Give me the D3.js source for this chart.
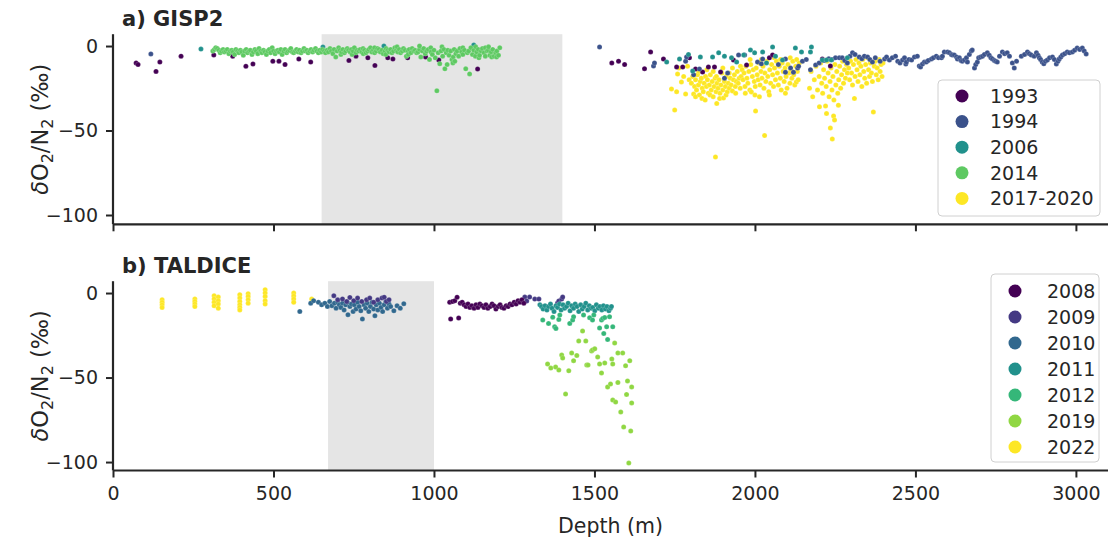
<!DOCTYPE html>
<html><head><meta charset="utf-8">
<script src="https://cdn.jsdelivr.net/npm/d3@7"></script>
<style>
body{margin:0;background:#fff;}
text{font-family:"DejaVu Sans",sans-serif;fill:#262626;}
</style></head>
<body><svg id="c" width="1109" height="545"></svg>
<script>
// ---------- DATA ----------
const xTicks = [0,500,1000,1500,2000,2500,3000];
const yTicks = [0,-50,-100];
const gispYears = ["1993","1994","2006","2014","2017-2020"];
const taldiceYears = ["2008","2009","2010","2011","2012","2019","2022"];
const gispSpan = [650,1400];
const taldiceSpan = [670,1000];

const gisp_1993 = [[72,-10],[78,-11],[134,-15],[146,-9.5],[212,-6],[314,-5.3],[373,-6],[414,-12],[436,-10.6],[498,-9],[517,-9],[536,-11],[579,-7.7],[616,-9.5],
[735,-8.5],[757,-6],[794,-7],[816,-11.5],[856,-7],[872,-7.7],[918,-7],[974,-6.5],[1015,-8.3],[1136,-13.6],
[1554,-10],[1575,-9],[1594,-11],[1656,-13.4],[1675,-3.5],[1715,-7.7],[1756,-12.4],[1775,-12.4],[1796,-7],[1815,-13.6],[1837,-15.4],[1855,-12.4],[1874,-12.4],[1893,-15.4],[1933,-8.3],[1974,-11.2],[2045,-7],[2055,-5.3],[2210,-7.7],[2235,-11.8]];

const gisp_1994 = [[118,-4.7],[1516,-0.6],[1684,-11.8],[1687,-10],[1784,-9],[1787,-6.5],[1809,-17],[1827,-13.6],[1905,-19],[1915,-16],[1949,-5.3],[1968,-5.3],[2008,-9.5],[2020,-10.5],[2024,-7.7],[2073,-11],[2095,-7.7],[2095,-15.5],[2111,-13],[2120,-15.5],[2133,-13],[2136,-12],[2148,-9],[2160,-8],[2173,-14],[2189,-11.2],[2200,-10],[2215,-8.5],[2230,-7.5],[2240,-8],[2251,-7],[2263,-7],[2272,-7],[2280,-8.5],[2288,-10],[2296,-6],[2304,-4],[2312,-5],[2325,-6.5],[2333,-7.5],[2341,-6],[2351,-6.5],[2358,-8],[2366,-9.5],[2375,-7],[2390,-9],[2404,-7.7],[2410,-6.5],[2419,-8.3],[2428,-7],[2438,-6],[2445,-9],[2452,-10],[2460,-8.3],
[2466,-7],[2470,-10.6],[2472,-9.5],[2480,-8],[2488,-8.3],[2497,-6.5],[2506,-6],[2512,-11.8],[2516,-12.4],[2522,-10.6],[2528,-9.5],[2534,-9.5],[2540,-8.5],[2550,-7.7],[2556,-7],[2565,-6],[2572,-7],[2581,-7],[2584,-6],[2590,-3.5],[2600,-3.5],[2606,-4],[2612,-5],[2615,-5.3],[2621,-5.3],[2628,-6.5],[2631,-7.7],[2637,-7],[2642,-8.5],[2646,-9],[2653,-8.3],[2659,-7],[2662,-9.5],[2668,-5],[2674,-3],[2677,-2.4],[2684,-13],[2688,-11],[2693,-9.5],[2697,-7],[2703,-6.5],[2709,-6],[2715,-5],[2724,-4],[2730,-5.5],[2735,-7],[2740,-7.7],[2746,-8.5],[2750,-9],[2755,-9.5],[2762,-6],[2771,-3.5],[2778,-4.5],[2786,-4],[2793,-6],[2802,-10],[2808,-13],[2815,-9],[2830,-6],[2840,-5],[2849,-3.5],[2855,-4.5],[2861,-5.3],[2870,-6],[2877,-4],[2882,-5.5],[2886,-7],[2890,-8],[2895,-9.5],[2900,-10.5],[2905,-9],[2911,-8.3],[2918,-7],[2927,-6.5],[2933,-8],[2939,-10.6],[2944,-9],[2948,-7.7],[2953,-6.5],[2958,-5.3],[2965,-4.5],[2973,-3.5],[2980,-4],[2989,-3.5],[2996,-2.5],[3004,-1.2],[3012,-2],[3020,-1.2],[3026,-3],[3032,-4.7]];

const gisp_2006 = [[274,-1.8],[654,-0.6],[844,0],[1124,0.6],[1725,-9.5],[1765,-7.7],[1793,-5],[1806,-14.8],[1830,-6.5],[1868,-6.5],[1887,-4],[1905,-6],[1927,-7],[1943,-9.5],[1965,-5.3],[1986,-2.4],[1999,-4],[2024,-3.5],[2036,-10],[2055,-0.6],[2064,-6],[2086,-8.3],[2126,-1.2],[2145,-3.5],[2173,-3.5],[2176,-0.6],[2210,-8.3],[2223,-8.3],[2238,-8.3],[2288,-7]];

const gisp_2014 = [[311,-3],[316,-2],[320,-1],[325,-1.5],[330,-2.5],[334,-4],[338,-3],[343,-2],[347,-3.5],[352,-3],[356,-2],[361,-4.5],[365,-3],[370,-2.5],[374,-3.5],[379,-5],[383,-2],[388,-3],[392,-4],[397,-2.5],[401,-3.5],[406,-5.5],[410,-3],[415,-2],[419,-4],[424,-3],[428,-2.5],[433,-5],[437,-3.5],[442,-2],[446,-3],[451,-4.5],[455,-1.5],[460,-3],[464,-4],[469,-2.5],[473,-3.5],[478,-5],[482,-3],[487,-2],[491,-4],[496,-1],[500,-3],[505,-4.5],[509,-3],[514,-2.5],[518,-3.5],[523,-2],[527,-5],[532,-3],[536,-2],[541,-4],[545,-3],[550,-2.5],[554,-1.5],[559,-3.5],[563,-4],[568,-3],[572,-2],[577,-3.5],[581,-2.5],[586,-4],[590,-3],[595,-1.5],[599,-3],[604,-2.5],[608,-4],[613,-3],[617,-2],[622,-3.5],[626,-2.5],[631,-1.5],[635,-3],[640,-4],[644,-2.5],[649,-3.5],[653,-2],[658,-3],[662,-4],[667,-2.5],[671,-3.5],[676,-1.5],[680,-3],[685,-4.5],[689,-2],[694,-6.5],[698,-3],[703,-1],[707,-2.5],[710,-5],[712,-3.5],[716,-2],[721,-4],[725,-3],[730,-1.5],[734,-2.5],[739,-3.5],[743,-2],[745,-5],[748,-3],[752,-1],[757,-4],[761,-2.5],[766,-3],[770,-2],[775,-3.5],[779,-1.5],[780,-4.5],[784,-2.5],[788,-4],[793,-3],[797,-2],[802,-1],[806,-3.5],[811,-2.5],[815,-4],[815,-1],[820,-3],[824,-1.5],[829,-2],[833,-3.5],[838,-2.5],[842,-4.5],[847,-3],[850,-5],[851,-1.5],[856,-2.5],[860,-3.5],[865,-2],[869,-4],[874,-3],[878,-1],[883,-2.5],[885,-0.5],[887,-3.5],[892,-2],[896,-4],[901,-3],[905,-1.5],[910,-2.5],[914,-6],[919,-3],[920,-5],[923,-2],[928,-4],[932,-1.5],[937,-3],[941,-2.5],[946,-4],[950,-3.5],[955,-2],[955,0],[959,-6.5],[964,-3],[968,-1.5],[973,-4.5],[977,-3],[982,-2],[986,-8],[990,-1],[991,-3.5],[995,-5],[1000,-2.5],[1004,-7],[1009,-26.5],[1013,-4],[1018,-10.5],[1022,-3],[1025,-0.5],[1027,-6],[1031,-2],[1034,-13.5],[1038,-4],[1041,-11],[1043,-2.5],[1047,-5.5],[1052,-3],[1056,-8],[1059,-10],[1060,-6.5],[1063,-2],[1065,-9],[1068,-4.5],[1072,-3],[1077,-6],[1081,-1.5],[1086,-3.5],[1090,-5],[1090,-1],[1095,-2.5],[1099,-13.5],[1104,-4],[1108,-3],[1111,-16.5],[1115,-1],[1120,-5],[1124,-2.5],[1129,-6],[1130,-0.5],[1133,-3.5],[1138,-2],[1140,-7],[1142,-5.5],[1147,-3],[1151,-1.5],[1156,-4],[1160,-6],[1160,-1],[1165,-3],[1169,-2.5],[1170,-0.5],[1174,-5.5],[1178,-3.5],[1180,-6.5],[1183,-2],[1187,-6],[1192,-4],[1195,-6.5],[1196,-3],[1201,-5.5],[1205,-1]];

const gisp_2017_2020 = [[1740,-25.4],[1750,-37.9],[1756,-27],[1759,-16.6],[1763,-13],[1771,-21.3],[1778,-18],[1784,-28.4],[1790,-12],[1795,-20],
[1802,-22],[1806,-18],[1809,-28.4],[1812,-24],[1815,-20],[1815,-30],[1818,-26],[1821,-17],[1824,-23],[1825,-15],[1827,-29],[1830,-21],[1833,-19],[1835,-31],[1836,-25],[1839,-27],[1842,-22],[1845,-32],[1846,-18],[1849,-24],[1850,-14],[1852,-20],[1855,-28],[1858,-23],[1860,-29],[1861,-17],[1864,-26],[1867,-21],[1870,-30],[1870,-15],[1873,-24],[1876,-19],[1877,-65.7],[1879,-27],[1880,-18],[1881,-34],[1882,-22],[1885,-25],[1888,-20],[1890,-31],[1891,-28],[1894,-23],[1897,-16],[1900,-26],[1900,-13],[1902,-30.8],[1905,-21],[1908,-24],[1910,-29],[1911,-18],[1914,-27],[1917,-22],[1920,-25],[1920,-16],[1923,-19],[1926,-23],[1930,-26.6],[1930,-13],[1933,-20],[1936,-17],[1939,-24],[1940,-28],[1942,-21],[1945,-15],[1948,-22],[1951,-19],[1954,-25],[1955,-12],[1957,-18],[1960,-14],
[1963,-20],[1966,-16],[1969,-24],[1970,-28],[1972,-12],[1975,-19],[1978,-22],[1981,-15],[1984,-26],[1985,-8],[1987,-11],[1989,-27.2],[1992,-18],[1995,-14],[1998,-21],[2000,-29],[2001,-24],[2002,-38.5],[2004,-13],[2007,-17],[2010,-20],[2013,-10],[2014,-30],[2016,-23],[2019,-15],[2020,-8],[2022,-19],[2025,-12],[2028,-25],[2030,-53],[2031,-16],[2034,-21],[2037,-9],[2040,-18],[2043,-27],[2045,-29],[2046,-14],[2049,-22],[2052,-11],[2055,-17],[2058,-24],[2060,-7],[2061,-13],[2064,-20],[2067,-9],[2070,-16],[2073,-23],[2076,-12],[2079,-19],[2080,-8],[2082,-26],[2085,-10],[2088,-15],[2091,-21],[2094,-13],[2095,-28],[2097,-18],[2100,-25],[2103,-11],[2106,-16],[2109,-22],[2110,-7],[2112,-14],[2115,-19],[2118,-9],[2121,-17],[2124,-23],[2127,-12],[2129,-21.3],[2130,-8],[2132,-15],[2135,-20],[2138,-10],
[2170,-25],[2175,-15],[2180,-30],[2185,-20],[2190,-12],[2195,-26],[2200,-18],[2201,-36],[2205,-10],[2208,-22],[2211,-28],[2214,-14],[2217,-19],[2220,-35.5],[2222,-24],[2223,-40],[2225,-9],[2228,-16],[2231,-30],[2234,-21],[2235,-48.5],[2237,-13],[2240,-26],[2241,-55],[2243,-18],[2245,-41.4],[2246,-32],[2248,-43.8],[2249,-11],[2252,-23],[2255,-15],[2258,-28],[2260,-35],[2261,-20],[2264,-12],[2267,-25],[2270,-17],[2273,-9],[2276,-22],[2279,-14],[2282,-19],[2285,-11],[2288,-16],
[2292,-13],[2295,-20],[2298,-9],[2301,-16],[2304,-23],[2307,-11],[2310,-31],[2312,-18],[2315,-8],[2318,-14],[2321,-21],[2324,-10],[2327,-17],[2330,-12],[2333,-24],[2336,-8],[2339,-15],[2342,-19],[2345,-11],[2348,-22],[2351,-7],[2354,-14],[2357,-18],[2360,-10],[2363,-16],[2366,-21],[2369,-39],[2372,-12],[2375,-9],[2378,-17],[2381,-13],[2384,-20],[2387,-8],[2390,-15],[2393,-11],[2396,-18],[2399,-10]];

const tal_2008 = [[1049,-5.5],[1052,-15.4],[1058,-5],[1065,-4.5],[1072,-2.5],[1077,-14.8],[1082,-6],[1088,-5.5],[1094,-7],[1100,-8],[1106,-6.5],[1112,-8.5],[1118,-7.5],[1125,-9],[1131,-7],[1137,-8.5],[1143,-6.5],[1150,-7.5],[1156,-8.5],[1162,-7],[1168,-9],[1175,-8],[1181,-6.5],[1187,-7.5],[1193,-9.5],[1200,-8],[1206,-7],[1212,-8.5],[1218,-9],[1225,-7.5],[1231,-8],[1237,-6.5],[1243,-7],[1250,-5.5],[1256,-6.5],[1262,-4.5],[1268,-5.5],[1274,-4],[1280,-6]];
const tal_2009 = [[688,-1.6],[700,-4],[715,-3.5],[728,-5],[738,-2.6],[750,-4.5],[762,-3],[775,-5],[790,-4],[800,-3],[812,-5.5],[825,-4],[838,-3],[845,-2.5],[852,-5],[860,-4],
[1283,-2.4],[1289,-4.7],[1298,-2.4],[1314,-3.6],[1327,-3.6],[1385,-5.9],[1389,-4.7],[1398,-3.6],[1401,-2.4]];
const tal_2010 = [[582,-10.9],[616,-6],[625,-4.5],[640,-5.5],[650,-7],[660,-6],[668,-8],[675,-5],[682,-7.5],[690,-6],[695,-9],[700,-5.5],[705,-7],[710,-8.5],[715,-6],[720,-10],[725,-7],[730,-5.5],[732,-12.8],[738,-8],[743,-6.5],[748,-11],[752,-7],[757,-9.5],[762,-5.5],[767,-8],[772,-10.5],[777,-15.4],[782,-7],[787,-9],[792,-6],[797,-11],[802,-8],[807,-5.5],[812,-9.5],[816,-13.4],[820,-7],[825,-10],[830,-6],[835,-8.5],[840,-11],[845,-7],[850,-5],[855,-9],[860,-6.5],[865,-8],[875,-10.5],[885,-7.5],[895,-9],[906,-6.3]];
const tal_2011 = [[1330,-7],[1335,-8],[1340,-9.5],[1346,-7.5],[1352,-10],[1357,-8],[1363,-6.5],[1368,-9],[1374,-11],[1380,-7.5],[1385,-8.5],[1391,-6.5],[1396,-10],[1402,-7],[1407,-9],[1413,-8],[1418,-6],[1424,-10.5],[1429,-7.5],[1435,-9],[1440,-6.5],[1446,-8],[1451,-11],[1457,-7],[1462,-9.5],[1468,-8],[1473,-6],[1479,-10],[1484,-7.5],[1490,-9],[1495,-8.5],[1501,-10.5],[1506,-7],[1512,-9],[1517,-8],[1523,-10],[1528,-7.5],[1534,-9.5],[1539,-8],[1545,-10.5],[1550,-9],[1553,-8]];
const tal_2012 = [[1339,-16],[1357,-18],[1370,-14.3],[1376,-20],[1380,-21],[1389,-15.6],[1392,-13],[1423,-18],[1432,-16],[1435,-14],[1466,-13],[1485,-14.6],[1494,-16],[1498,-13],[1516,-20.7],[1522,-16],[1526,-15],[1529,-24],[1532,-14.5],[1538,-20],[1541,-27.5],[1547,-14],[1557,-20]];
const tal_2019 = [[1354,-42],[1364,-44.4],[1379,-43.8],[1389,-45.6],[1398,-36.7],[1401,-38.5],[1410,-59.8],[1420,-46],[1429,-35.5],[1435,-40],[1445,-37],[1451,-28.4],[1463,-22.5],[1473,-28.4],[1476,-42.6],[1480,-42.6],[1491,-34.3],[1494,-33.7],[1501,-33],[1510,-37.9],[1516,-42],[1522,-47.3],[1532,-41.4],[1541,-55.6],[1550,-53.8],[1554,-39],[1557,-42],[1557,-63.3],[1563,-29.6],[1566,-64.5],[1573,-35.5],[1573,-53],[1582,-70.4],[1588,-35.5],[1591,-79.3],[1597,-43],[1600,-60],[1603,-52],[1607,-100.6],[1610,-40],[1613,-81.7],[1616,-55.6],[1616,-65]];
const tal_2022 = [[153,-4],[153,-5.5],[153,-7],[153,-8.5],[255,-3.6],[255,-5],[255,-6.5],[255,-8],[315,-1.6],[315,-3.5],[315,-5.5],[315,-7.5],[328,-2.4],[328,-4.5],[328,-6.5],[328,-9],[395,-1],[395,-3],[395,-5],[395,-7],[395,-8.5],[395,-10],[421,-0.4],[421,-2],[421,-4],[421,-6],[474,2],[474,0],[474,-2],[474,-4.5],[474,-6.5],[563,0],[563,-1.8],[563,-3.6],[563,-5.5],[619,-3.6]];

// ---------- CHART ----------
const svg = d3.select("#c");
const x = d3.scaleLinear().domain([0,3100]).range([113,1108]);
const yA = d3.scaleLinear().domain([-105.5,7]).range([224.3,34.2]);
const yB = d3.scaleLinear().domain([-105,7]).range([470.5,281.2]);
const colA = d3.scaleOrdinal().domain(gispYears).range(gispYears.map((d,i)=>d3.interpolateViridis(i/(gispYears.length-1))));
const colB = d3.scaleOrdinal().domain(taldiceYears).range(taldiceYears.map((d,i)=>d3.interpolateViridis(i/(taldiceYears.length-1))));

function panel(y, span, series, col, labels, title, legendBox, showXLabels){
  const [y0,y1] = y.range();
  svg.append("rect").attr("x",x(span[0])).attr("width",x(span[1])-x(span[0]))
    .attr("y",y1).attr("height",y0-y1).attr("fill","#e5e5e5");
  const g = svg.append("g");
  series.forEach(([name,data])=>{
    g.selectAll(null).data(data).join("circle")
      .attr("cx",d=>x(d[0])).attr("cy",d=>y(d[1])).attr("r",2.5)
      .attr("fill",col(name)).attr("stroke","#fff").attr("stroke-width",0.3).attr("stroke-opacity",0.6);
  });
  const ax = svg.append("g").attr("transform",`translate(0,${y0})`)
    .call(d3.axisBottom(x).tickValues(xTicks).tickSize(7).tickPadding(9).tickFormat(showXLabels?d3.format("d"):""));
  const ay = svg.append("g").attr("transform",`translate(${x.range()[0]},0)`)
    .call(d3.axisLeft(y).tickValues(yTicks).tickSize(7).tickPadding(8));
  [ax,ay].forEach(a=>{
    a.select(".domain").attr("stroke","#262626").attr("stroke-width",2.2);
    a.selectAll(".tick line").attr("stroke","#262626").attr("stroke-width",2);
    a.selectAll(".tick text").attr("fill","#262626").style("font-size","19px").style("font-family","DejaVu Sans");
  });
  ax.select(".domain").attr("d",`M${x.range()[0]},0H${x.range()[1]}`);
  ay.select(".domain").attr("d",`M0,${y0}V${y1}`);
  svg.append("text").attr("x",122).attr("y",y1-8).text(title)
    .style("font-weight","bold").style("font-size","21px");
  const cy=(y0+y1)/2;
  const t = svg.append("text").attr("transform",`translate(48,${cy}) rotate(-90)`)
    .attr("text-anchor","middle").style("font-size","22.5px");
  t.append("tspan").text("δ").style("font-style","italic");
  t.append("tspan").text("O");
  t.append("tspan").text("2").attr("dy",5).style("font-size","16px");
  t.append("tspan").text("/N").attr("dy",-5);
  t.append("tspan").text("2").attr("dy",5).style("font-size","16px");
  t.append("tspan").text(" (‰)").attr("dy",-5);
  const [lx,ly,lw,lh,mx,tx,ry,step] = legendBox;
  svg.append("rect").attr("x",lx).attr("y",ly).attr("width",lw).attr("height",lh).attr("rx",4)
    .attr("fill","#fff").attr("fill-opacity",0.8).attr("stroke","#d0d0d0").attr("stroke-width",1);
  labels.forEach((lab,i)=>{
    svg.append("circle").attr("cx",mx).attr("cy",ry+i*step).attr("r",6.5).attr("fill",col(lab));
    svg.append("text").attr("x",tx).attr("y",ry+i*step).attr("dy","0.36em").text(lab).style("font-size","19px");
  });
}

panel(yA, gispSpan,
  [["2017-2020",gisp_2017_2020],["1993",gisp_1993],["1994",gisp_1994],["2006",gisp_2006],["2014",gisp_2014]],
  colA, gispYears, "a) GISP2", [938,80,162,136,962,990,96,25.6], false);
panel(yB, taldiceSpan,
  [["2022",tal_2022],["2010",tal_2010],["2009",tal_2009],["2008",tal_2008],["2011",tal_2011],["2012",tal_2012],["2019",tal_2019]],
  colB, taldiceYears, "b) TALDICE", [991,274,108,188,1015,1047,291,26], true);

svg.append("text").attr("x",(x.range()[0]+x.range()[1])/2).attr("y",533).attr("text-anchor","middle")
  .text("Depth (m)").style("font-size","20.5px");
</script></body></html>
